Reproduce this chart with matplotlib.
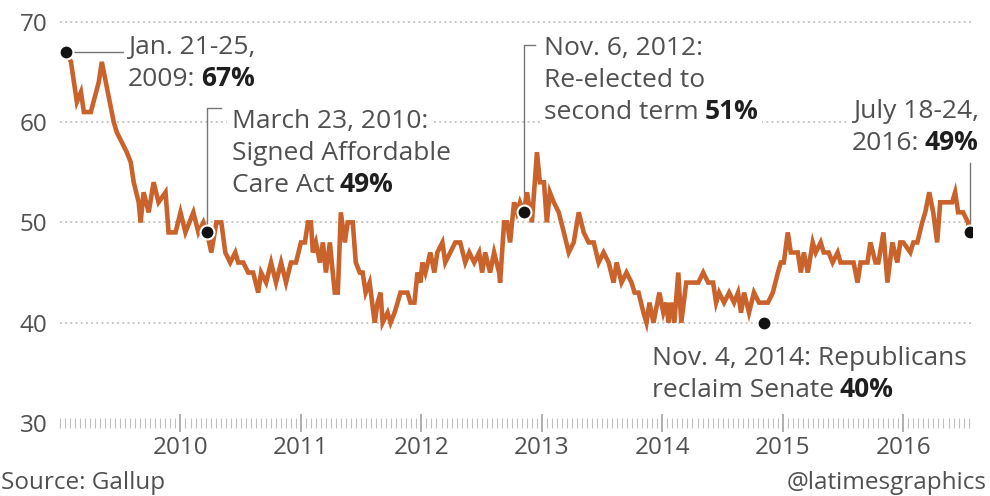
import numpy as np
import matplotlib
matplotlib.use('Agg')
import matplotlib.pyplot as plt

#### DATA  (Gallup weekly job approval)
years = [2009.050, 2009.091, 2009.140, 2009.174, 2009.198, 2009.256, 2009.322, 2009.347, 2009.380, 2009.446,
         2009.471, 2009.512, 2009.554, 2009.587, 2009.612, 2009.653, 2009.669, 2009.694, 2009.736, 2009.777,
         2009.818, 2009.876, 2009.901, 2009.959, 2010.000, 2010.041, 2010.107, 2010.149, 2010.190, 2010.220,
         2010.256, 2010.298, 2010.339, 2010.372, 2010.413, 2010.455, 2010.479, 2010.521, 2010.562, 2010.603,
         2010.645, 2010.669, 2010.711, 2010.752, 2010.793, 2010.835, 2010.876, 2010.917, 2010.959, 2011.000,
         2011.033, 2011.058, 2011.083, 2011.099, 2011.124, 2011.157, 2011.182, 2011.207, 2011.240, 2011.264,
         2011.281, 2011.306, 2011.331, 2011.364, 2011.388, 2011.430, 2011.455, 2011.488, 2011.512, 2011.537,
         2011.570, 2011.612, 2011.636, 2011.661, 2011.678, 2011.719, 2011.744, 2011.777, 2011.802, 2011.826,
         2011.884, 2011.909, 2011.942, 2011.967, 2011.992, 2012.008, 2012.033, 2012.074, 2012.107, 2012.132,
         2012.174, 2012.198, 2012.240, 2012.281, 2012.322, 2012.364, 2012.397, 2012.438, 2012.479, 2012.504,
         2012.529, 2012.570, 2012.603, 2012.645, 2012.653, 2012.686, 2012.711, 2012.736, 2012.769, 2012.793,
         2012.818, 2012.850, 2012.876, 2012.917, 2012.959, 2012.983, 2013.017, 2013.041, 2013.066, 2013.099,
         2013.140, 2013.182, 2013.223, 2013.264, 2013.306, 2013.347, 2013.388, 2013.430, 2013.471, 2013.512,
         2013.554, 2013.595, 2013.620, 2013.661, 2013.702, 2013.744, 2013.769, 2013.802, 2013.843, 2013.868,
         2013.893, 2013.926, 2013.975, 2014.008, 2014.033, 2014.050, 2014.074, 2014.099, 2014.132, 2014.157,
         2014.198, 2014.240, 2014.298, 2014.339, 2014.380, 2014.421, 2014.446, 2014.471, 2014.512, 2014.554,
         2014.595, 2014.628, 2014.653, 2014.678, 2014.719, 2014.760, 2014.802, 2014.840, 2014.876, 2014.917,
         2014.959, 2014.983, 2015.008, 2015.041, 2015.066, 2015.091, 2015.124, 2015.149, 2015.174, 2015.207,
         2015.248, 2015.273, 2015.314, 2015.339, 2015.380, 2015.413, 2015.455, 2015.479, 2015.537, 2015.587,
         2015.620, 2015.645, 2015.702, 2015.727, 2015.769, 2015.793, 2015.835, 2015.868, 2015.909, 2015.950,
         2015.975, 2016.000, 2016.058, 2016.083, 2016.116, 2016.157, 2016.182, 2016.215, 2016.248, 2016.281,
         2016.306, 2016.331, 2016.372, 2016.405, 2016.430, 2016.455, 2016.496, 2016.537, 2016.550]
approval = [67, 66, 62, 63, 61, 61, 64, 66, 64, 60,
            59, 58, 57, 56, 54, 52, 50, 53, 51, 54,
            52, 53, 49, 49, 51, 49, 51, 49, 50, 49,
            47, 50, 50, 47, 46, 47, 46, 46, 45, 45,
            43, 45, 44, 46, 44, 46, 44, 46, 46, 48,
            48, 50, 50, 47, 48, 46, 48, 45, 48, 45,
            43, 43, 51, 48, 50, 50, 46, 45, 45, 43,
            44, 40, 42, 43, 40, 41, 40, 41, 42, 43,
            43, 42, 42, 45, 44, 46, 45, 47, 45, 47,
            48, 46, 47, 48, 48, 46, 47, 46, 47, 45,
            47, 45, 47, 45, 44, 50, 50, 48, 52, 51,
            52, 51, 53, 50, 57, 54, 54, 50, 53, 52,
            51, 49, 47, 48, 51, 49, 48, 48, 46, 47,
            46, 44, 46, 44, 45, 44, 43, 43, 41, 40,
            42, 40, 43, 41, 42, 40, 42, 40, 45, 40,
            44, 44, 44, 45, 44, 44, 42, 43, 42, 43,
            42, 43, 41, 43, 41, 43, 42, 42, 42, 43,
            45, 46, 46, 49, 47, 47, 47, 45, 47, 45,
            48, 47, 48, 47, 47, 46, 47, 46, 46, 46,
            44, 46, 46, 48, 46, 46, 49, 44, 48, 46,
            48, 48, 47, 48, 48, 50, 51, 53, 51, 48,
            52, 52, 52, 52, 53, 51, 51, 50, 49]

event_x = [2009.05, 2010.22, 2012.85, 2014.84, 2016.55]
event_y = [67, 49, 51, 40, 49]
event_lines = [["Jan. 21-25,", "2009:"],
               ["March 23, 2010:", "Signed Affordable", "Care Act"],
               ["Nov. 6, 2012:", "Re-elected to", "second term"],
               ["Nov. 4, 2014: Republicans", "reclaim Senate"],
               ["July 18-24,", "2016:"]]
event_bold = ["67%", "49%", "51%", "40%", "49%"]
year_ticks = [2010, 2011, 2012, 2013, 2014, 2015, 2016]

ORANGE = '#c9622b'
GRAY = '#505050'
DARK = '#1e1e1e'
FS = 19
TFS = 17.5

plt.rcParams['font.family'] = ['Open Sans', 'DejaVu Sans']

fig = plt.figure(figsize=(9.9, 4.96), dpi=100)
ax = fig.add_axes([60/990, 73/496, 912/990, 421/496])
ax.set_xlim(2009.033, 2016.570)
ax.set_ylim(30, 71.97)
for s in ax.spines.values():
    s.set_visible(False)

# dotted gridlines
for g in [40, 50, 60, 70]:
    ax.axhline(g, color='#b5b5b5', lw=1.1, ls=(0, (1.2, 2.2)), zorder=0)

ax.set_yticks([30, 40, 50, 60, 70])
ax.tick_params(axis='y', length=0, pad=9, labelsize=TFS, labelcolor=GRAY)
ax.set_xticks(year_ticks)
ax.set_xticklabels([str(y) for y in year_ticks])
ax.set_xticks(np.arange(2009.0, 2016.57, 1/24), minor=True)
ax.tick_params(axis='x', which='major', direction='inout', length=13, width=1.1,
               color='#9a9a9a', pad=3, labelsize=TFS, labelcolor=GRAY)
ax.tick_params(axis='x', which='minor', direction='inout', length=7, width=0.8, color='#c0c0c0')

ax.plot(years, approval, color=ORANGE, lw=3.3, solid_joinstyle='miter', zorder=3)

# leader lines
lc = '#777777'
ax.plot([2009.05, 2009.545], [67, 67], color=lc, lw=1, zorder=2)
ax.plot([2010.22, 2010.22, 2010.339], [49, 61.4, 61.4], color=lc, lw=1, zorder=2)
ax.plot([2012.85, 2012.85, 2012.942], [51, 67.7, 67.7], color=lc, lw=1, zorder=2)
ax.plot([2016.55, 2016.55], [49, 55.9], color=lc, lw=1, zorder=2)

ax.scatter(event_x, event_y, s=100, color='#111111', edgecolors='white', linewidths=1.5, zorder=5)

# annotation texts
label_pos = [(2009.565, 66.8, 'left'), (2010.425, 59.43, 'left'), (2013.020, 66.7, 'left'),
             (2013.915, 35.8, 'left'), (2016.625, 60.43, 'right')]
bb = dict(facecolor='white', edgecolor='none', pad=3)
lh = 23
for (x, y, ha), lines, bold in zip(label_pos, event_lines, event_bold):
    n = len(lines)
    if ha == 'left':
        last = None
        for i, ln in enumerate(lines):
            last = ax.annotate(ln, (x, y), xytext=(0, -i*lh), textcoords='offset points',
                               ha='left', va='baseline', fontsize=FS, color=GRAY, bbox=bb,
                               annotation_clip=False, zorder=4)
        ax.annotate(bold, xy=(1, 0), xycoords=last, xytext=(4, 0), textcoords='offset points',
                    ha='left', va='bottom', fontsize=FS, color=DARK, weight='bold', bbox=bb, zorder=4)
    else:
        for i, ln in enumerate(lines[:-1]):
            ax.annotate(ln, (x, y), xytext=(0, -i*lh), textcoords='offset points',
                        ha='right', va='baseline', fontsize=FS, color=GRAY, bbox=bb,
                        annotation_clip=False, zorder=4)
        b = ax.annotate(bold, (x, y), xytext=(0, -(n-1)*lh), textcoords='offset points',
                        ha='right', va='baseline', fontsize=FS, color=DARK, weight='bold', bbox=bb,
                        annotation_clip=False, zorder=4)
        ax.annotate(lines[-1], xy=(0, 0), xycoords=b, xytext=(-4, 0), textcoords='offset points',
                    ha='right', va='bottom', fontsize=FS, color=GRAY, bbox=bb, zorder=4)

fig.text(1/990, 1 - 489/496, "Source: Gallup", fontsize=17.5, color=GRAY, va='baseline')
fig.text(987/990, 1 - 489/496, "@latimesgraphics", fontsize=17.5, color=GRAY, va='baseline', ha='right')

fig.savefig('out.png', dpi=100)
